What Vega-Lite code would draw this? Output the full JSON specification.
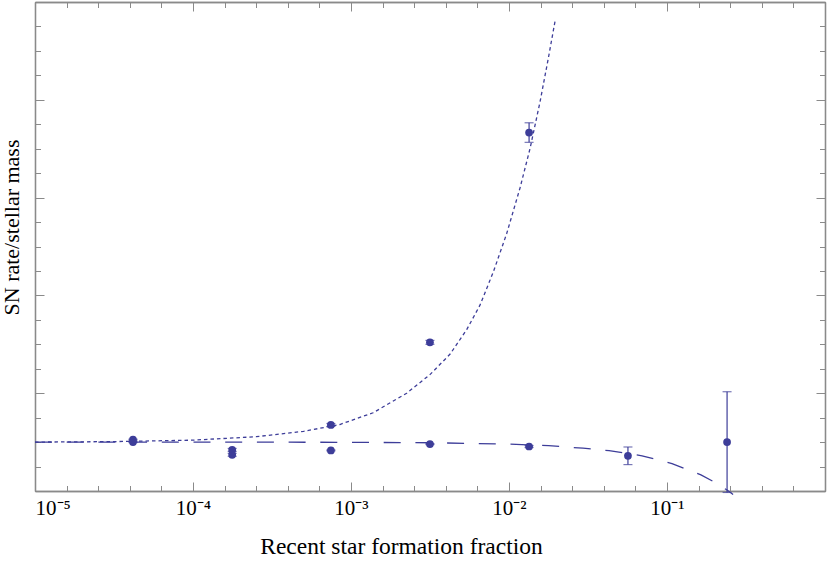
{
  "$schema": "https://vega.github.io/schema/vega-lite/v6.json",
  "width": 790,
  "height": 489,
  "autosize": {"type": "none"},
  "padding": {"left": 35, "top": 2, "right": 5, "bottom": 70},
  "background": "white",
  "config": {
    "view": {"stroke": null},
    "axis": {
      "grid": false,
      "domainColor": "#8a8a8a",
      "domainWidth": 1.3,
      "tickColor": "#8a8a8a",
      "tickWidth": 1,
      "labelFont": "Liberation Serif",
      "titleFont": "Liberation Serif",
      "labelColor": "#000000",
      "titleColor": "#000000",
      "titleFontWeight": "normal"
    }
  },
  "datasets": {
    "upper": [
      {"f": 0.00001, "y": 1.0},
      {"f": 0.0000316, "y": 1.01},
      {"f": 0.0001, "y": 1.04},
      {"f": 0.000251, "y": 1.11},
      {"f": 0.000501, "y": 1.22},
      {"f": 0.00085, "y": 1.36},
      {"f": 0.00138, "y": 1.6},
      {"f": 0.00225, "y": 2.0},
      {"f": 0.00316, "y": 2.38},
      {"f": 0.00424, "y": 2.8},
      {"f": 0.0054, "y": 3.3},
      {"f": 0.00655, "y": 3.8},
      {"f": 0.00796, "y": 4.48},
      {"f": 0.00966, "y": 5.26},
      {"f": 0.01175, "y": 6.2},
      {"f": 0.01358, "y": 7.0},
      {"f": 0.0157, "y": 7.95},
      {"f": 0.01774, "y": 8.85},
      {"f": 0.01954, "y": 9.6}
    ],
    "lower": [
      {"f": 0.00001, "y": 1.0},
      {"f": 0.0001, "y": 1.0},
      {"f": 0.001, "y": 0.996},
      {"f": 0.00316, "y": 0.987},
      {"f": 0.01, "y": 0.96},
      {"f": 0.0178, "y": 0.927},
      {"f": 0.0294, "y": 0.875},
      {"f": 0.043, "y": 0.825},
      {"f": 0.0695, "y": 0.72},
      {"f": 0.1076, "y": 0.56},
      {"f": 0.164, "y": 0.33},
      {"f": 0.2, "y": 0.18},
      {"f": 0.24, "y": 0.02},
      {"f": 0.262, "y": -0.07}
    ],
    "points": [
      {"f": 0.0000417, "y": 1.05, "lo": 1.04, "hi": 1.06},
      {"f": 0.0000417, "y": 1.0, "lo": 0.99, "hi": 1.01},
      {"f": 0.000177, "y": 0.84, "lo": 0.81, "hi": 0.87},
      {"f": 0.000177, "y": 0.74, "lo": 0.71, "hi": 0.77},
      {"f": 0.000746, "y": 1.35, "lo": 1.32, "hi": 1.38},
      {"f": 0.000746, "y": 0.83, "lo": 0.82, "hi": 0.84},
      {"f": 0.00316, "y": 3.04, "lo": 3.0, "hi": 3.08},
      {"f": 0.00316, "y": 0.96, "lo": 0.95, "hi": 0.97},
      {"f": 0.0134, "y": 7.33, "lo": 7.13, "hi": 7.53},
      {"f": 0.0134, "y": 0.91, "lo": 0.89, "hi": 0.93},
      {"f": 0.0566, "y": 0.72, "lo": 0.54, "hi": 0.9},
      {"f": 0.24, "y": 1.0, "lo": -0.03, "hi": 2.03}
    ]
  },
  "resolve": {"axis": {"x": "independent", "y": "independent"}},
  "layer": [
    {
      "data": {"name": "upper"},
      "mark": {"type": "line", "color": "#3d3d99", "strokeWidth": 1.3, "strokeDash": [3.5, 3]},
      "encoding": {
        "x": {
          "field": "f", "type": "quantitative",
          "scale": {"type": "log", "domain": [0.00001, 1], "nice": false},
          "axis": {
            "orient": "bottom", "title": null, "labels": false, "tickSize": -5.5,
            "values": [0.00001, 0.000015849, 0.000025119, 0.000039811, 0.000063096, 0.0001, 0.00015849, 0.00025119, 0.00039811, 0.00063096, 0.001, 0.0015849, 0.0025119, 0.0039811, 0.0063096, 0.01, 0.015849, 0.025119, 0.039811, 0.063096, 0.1, 0.15849, 0.25119, 0.39811, 0.63096, 1]
          }
        },
        "y": {
          "field": "y", "type": "quantitative",
          "scale": {"domain": [0, 10], "nice": false, "zero": false},
          "axis": {
            "orient": "left", "title": null, "labels": false, "tickSize": -5.5,
            "values": [0, 0.5, 1, 1.5, 2, 2.5, 3, 3.5, 4, 4.5, 5, 5.5, 6, 6.5, 7, 7.5, 8, 8.5, 9, 9.5, 10]
          }
        }
      }
    },
    {
      "data": {"name": "lower"},
      "mark": {"type": "line", "color": "#3d3d99", "strokeWidth": 1.3, "strokeDash": [17, 14.7]},
      "encoding": {
        "x": {
          "field": "f", "type": "quantitative",
          "scale": {"type": "log", "domain": [0.00001, 1], "nice": false},
          "axis": {
            "orient": "bottom", "tickSize": -9, "labelPadding": 15,
            "values": [0.00001, 0.0001, 0.001, 0.01, 0.1],
            "labelExpr": "datum.value < 2e-5 ? '10⁻⁵' : datum.value < 2e-4 ? '10⁻⁴' : datum.value < 2e-3 ? '10⁻³' : datum.value < 2e-2 ? '10⁻²' : '10⁻¹'",
            "labelFontSize": 21, "labelDx": 6,
            "title": "Recent star formation fraction",
            "titleFontSize": 23.5, "titleX": 366, "titleY": 62, "titleAlign": "center", "titleBaseline": "alphabetic", "titleAnchor": null
          }
        },
        "y": {
          "field": "y", "type": "quantitative",
          "scale": {"domain": [0, 10], "nice": false, "zero": false},
          "axis": {
            "orient": "left", "labels": false, "tickSize": -9,
            "values": [0, 2, 4, 6, 8, 10],
            "title": "SN rate/stellar mass",
            "titleFontSize": 22, "titleX": -17, "titleY": 225, "titleAngle": -90, "titleAlign": "center", "titleBaseline": "alphabetic"
          }
        }
      }
    },
    {
      "data": {"name": "points"},
      "mark": {"type": "rule", "color": "#3d3d99", "strokeWidth": 1.2},
      "encoding": {
        "x": {
          "field": "f", "type": "quantitative",
          "scale": {"type": "log", "domain": [0.00001, 1], "nice": false},
          "axis": {
            "orient": "top", "title": null, "labels": false, "tickSize": -5.5,
            "values": [0.00001, 0.000015849, 0.000025119, 0.000039811, 0.000063096, 0.0001, 0.00015849, 0.00025119, 0.00039811, 0.00063096, 0.001, 0.0015849, 0.0025119, 0.0039811, 0.0063096, 0.01, 0.015849, 0.025119, 0.039811, 0.063096, 0.1, 0.15849, 0.25119, 0.39811, 0.63096, 1]
          }
        },
        "y": {
          "field": "lo", "type": "quantitative",
          "scale": {"domain": [0, 10], "nice": false, "zero": false},
          "axis": {
            "orient": "right", "title": null, "labels": false, "tickSize": -5.5,
            "values": [0, 0.5, 1, 1.5, 2, 2.5, 3, 3.5, 4, 4.5, 5, 5.5, 6, 6.5, 7, 7.5, 8, 8.5, 9, 9.5, 10]
          }
        },
        "y2": {"field": "hi"}
      }
    },
    {
      "data": {"name": "points"},
      "mark": {"type": "tick", "orient": "horizontal", "color": "#3d3d99", "size": 9, "thickness": 1.2},
      "encoding": {
        "x": {
          "field": "f", "type": "quantitative",
          "scale": {"type": "log", "domain": [0.00001, 1], "nice": false},
          "axis": {
            "orient": "top", "title": null, "labels": false, "tickSize": -9,
            "values": [0.00001, 0.0001, 0.001, 0.01, 0.1]
          }
        },
        "y": {
          "field": "lo", "type": "quantitative",
          "scale": {"domain": [0, 10], "nice": false, "zero": false},
          "axis": {
            "orient": "right", "title": null, "labels": false, "tickSize": -9,
            "values": [0, 2, 4, 6, 8, 10]
          }
        }
      }
    },
    {
      "data": {"name": "points"},
      "mark": {"type": "tick", "orient": "horizontal", "color": "#3d3d99", "size": 9, "thickness": 1.2},
      "encoding": {
        "x": {"field": "f", "type": "quantitative", "scale": {"type": "log", "domain": [0.00001, 1], "nice": false}, "axis": null},
        "y": {"field": "hi", "type": "quantitative", "scale": {"domain": [0, 10], "nice": false, "zero": false}, "axis": null}
      }
    },
    {
      "data": {"name": "points"},
      "mark": {"type": "point", "shape": "circle", "filled": true, "opacity": 1, "color": "#3d3d99", "size": 60},
      "encoding": {
        "x": {"field": "f", "type": "quantitative", "scale": {"type": "log", "domain": [0.00001, 1], "nice": false}, "axis": null},
        "y": {"field": "y", "type": "quantitative", "scale": {"domain": [0, 10], "nice": false, "zero": false}, "axis": null}
      }
    }
  ]
}
